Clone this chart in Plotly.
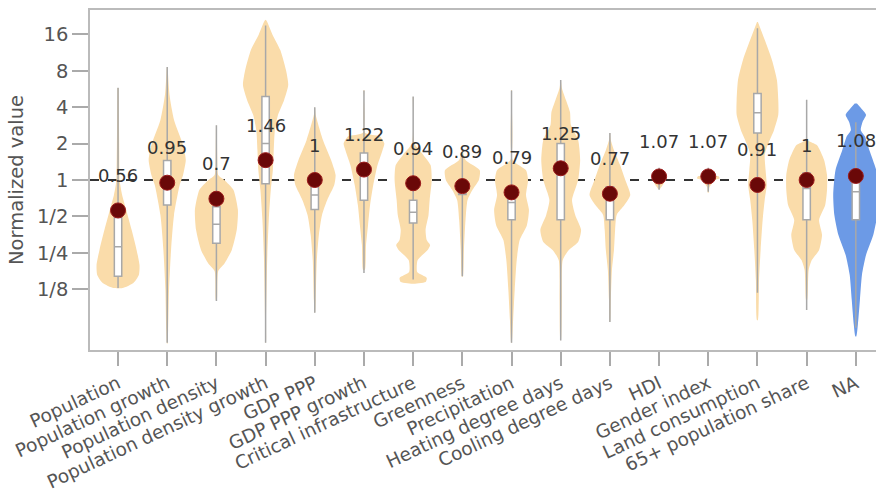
import math
import plotly.graph_objects as go

categories = ["Population", "Population growth", "Population density",
              "Population density growth", "GDP PPP", "GDP PPP growth",
              "Critical infrastructure", "Greenness", "Precipitation",
              "Heating degree days", "Cooling degree days", "HDI",
              "Gender index", "Land consumption", "65+ population share", "NA"]

# point estimates (dark dots + labels)
estimates = [0.56, 0.95, 0.7, 1.46, 1, 1.22, 0.94, 0.89, 0.79, 1.25, 0.77,
             1.07, 1.07, 0.91, 1, 1.08]

# box statistics (normalized values)
q1 = [0.16, 0.62, 0.30, 0.93, 0.57, 0.68, 0.44, 0.76, 0.47, 0.47, 0.47,
      1.02, 1.02, 2.45, 0.47, 0.47]
median = [0.28, 0.95, 0.43, 2.0, 0.75, 1.15, 0.54, 0.85, 0.65, 1.23, 0.70,
          1.07, 1.07, 3.6, 0.85, 0.80]
q3 = [0.49, 1.45, 0.60, 4.9, 0.95, 1.67, 0.68, 1.0, 0.83, 2.0, 0.88,
      1.12, 1.12, 5.2, 1.14, 1.14]
lower = [0.128, 0.045, 0.10, 0.045, 0.08, 0.17, 0.15, 0.16, 0.045, 0.047,
         0.067, 0.83, 0.80, 0.117, 0.084, 0.06]
upper = [5.8, 8.6, 2.83, 19.0, 4.0, 5.5, 4.9, 1.6, 5.5, 6.7, 2.45,
         1.26, 1.26, 18.0, 4.6, 3.0]

# violin outlines: log2 levels (top -> bottom) and relative density widths
v_levels = [
    [2.53, 1.0, 0.0, -0.14, -0.41, -0.82, -1.37, -1.92, -2.34, -2.61, -2.83, -2.97],
    [3.1, 2.34, 1.65, 0.96, 0.55, 0.14, -0.14, -0.96, -1.92, -3.02, -4.12, -4.5],
    [1.5, 0.5, 0.14, 0.0, -0.27, -0.82, -1.37, -1.92, -2.3, -2.5, -3.3],
    [4.4, 4.0, 3.57, 3.02, 2.61, 2.2, 1.79, 1.37, 0.82, 0.27, -0.27, -1.1, -2.2, -3.85, -4.48],
    [2.0, 1.79, 1.1, 0.55, 0.14, -0.14, -0.55, -0.96, -1.51, -2.2, -3.3, -3.65],
    [2.47, 1.3, 1.2, 1.0, 0.82, 0.41, -0.14, -0.69, -1.24, -1.79, -2.47],
    [2.28, 1.0, 0.69, 0.41, 0.0, -0.55, -0.96, -1.37, -1.65, -1.79, -1.92, -2.2, -2.53, -2.69, -2.8, -2.85],
    [0.82, 0.55, 0.27, 0.0, -0.27, -0.55, -1.1, -1.92, -2.66],
    [2.47, 0.55, 0.27, 0.0, -0.41, -0.82, -1.24, -1.65, -2.2, -3.02, -3.85, -4.48],
    [2.75, 2.53, 2.2, 1.87, 1.51, 1.1, 0.55, 0.0, -0.55, -0.96, -1.37, -1.7, -1.92, -2.2, -3.3, -4.4],
    [1.29, 1.1, 0.82, 0.41, 0.0, -0.41, -0.69, -0.96, -1.37, -1.92, -2.47, -3.3, -3.9],
    [0.3, 0.1, 0.0, -0.1, -0.25],
    [0.3, 0.15, 0.1, 0.05, 0.0, -0.2, -0.35],
    [4.34, 3.85, 3.3, 2.75, 2.2, 1.79, 1.37, 0.96, 0.69, 0.27, -0.14, -0.55, -1.1, -1.92, -2.75, -3.85],
    [2.2, 1.1, 0.96, 0.55, 0.14, -0.27, -0.69, -1.1, -1.51, -1.92, -2.2, -2.47, -3.3],
    [2.1, 1.92, 1.79, 1.6, 1.37, 1.2, 0.82, 0.27, -0.41, -0.96, -1.51, -2.06, -2.61, -3.3, -3.98, -4.3],
]
v_density = [
    [0.03, 0.05, 0.07, 0.1, 0.18, 0.36, 0.6, 0.82, 0.95, 0.92, 0.68, 0.2],
    [0.02, 0.1, 0.3, 0.7, 0.82, 0.7, 0.55, 0.3, 0.17, 0.08, 0.04, 0.01],
    [0.02, 0.04, 0.08, 0.35, 0.75, 0.95, 0.9, 0.68, 0.35, 0.08, 0.02],
    [0.0, 0.3, 0.65, 0.9, 1.0, 0.82, 0.55, 0.41, 0.36, 0.32, 0.23, 0.14, 0.07, 0.02, 0.01],
    [0.01, 0.04, 0.36, 0.72, 0.92, 0.86, 0.55, 0.32, 0.18, 0.09, 0.04, 0.01],
    [0.02, 0.05, 0.7, 0.9, 0.82, 0.6, 0.41, 0.27, 0.18, 0.09, 0.04],
    [0.02, 0.06, 0.45, 0.77, 0.82, 0.73, 0.68, 0.55, 0.6, 0.75, 0.64, 0.2, 0.18, 0.6, 0.55, 0.0],
    [0.02, 0.14, 0.77, 0.73, 0.45, 0.23, 0.14, 0.07, 0.02],
    [0.02, 0.05, 0.64, 0.73, 0.64, 0.77, 0.68, 0.36, 0.23, 0.14, 0.07, 0.01],
    [0.01, 0.05, 0.23, 0.41, 0.45, 0.77, 0.86, 0.77, 0.5, 0.64, 0.9, 0.77, 0.36, 0.09, 0.05, 0.01],
    [0.01, 0.04, 0.18, 0.45, 0.68, 0.9, 0.64, 0.3, 0.23, 0.18, 0.09, 0.04, 0.01],
    [0.02, 0.2, 0.25, 0.2, 0.02],
    [0.02, 0.1, 0.45, 0.5, 0.3, 0.05, 0.02],
    [0.02, 0.32, 0.64, 0.86, 0.92, 0.92, 0.73, 0.45, 0.32, 0.36, 0.41, 0.32, 0.23, 0.14, 0.07, 0.02],
    [0.02, 0.05, 0.45, 0.77, 0.9, 0.9, 0.82, 0.55, 0.68, 0.55, 0.23, 0.09, 0.02],
    [0.05, 0.3, 0.45, 0.3, 0.22, 0.4, 0.6, 0.9, 1.0, 0.95, 0.77, 0.45, 0.27, 0.18, 0.09, 0.02],
]
highlight = ["NA"]

ORANGE = "#fadcaa"
BLUE = "#6c9ae6"
MAXW = 0.46
FONT = "DejaVu Sans, sans-serif"
XRANGE = [-0.57, 15.41]
YRANGE = [-1.406, 1.406]

fig = go.Figure()

# violins on the base axes
for i, cat in enumerate(categories):
    lv = v_levels[i]
    dn = v_density[i]
    ys = [2 ** l for l in lv]
    xr = [i + d * MAXW for d in dn]
    xl = [i - d * MAXW for d in dn]
    fig.add_trace(go.Scatter(
        x=xr + xl[::-1], y=ys + ys[::-1], mode="lines", fill="toself",
        fillcolor=BLUE if cat in highlight else ORANGE,
        line=dict(width=0, shape="spline", smoothing=0.6),
        hoverinfo="skip", showlegend=False, xaxis="x", yaxis="y"))

# boxes + dots on overlaying axes so they sit on top of the violins
for i, cat in enumerate(categories):
    fig.add_trace(go.Box(
        x=[i], q1=[q1[i]], median=[median[i]], q3=[q3[i]],
        lowerfence=[lower[i]], upperfence=[upper[i]],
        orientation="v", width=0.15, whiskerwidth=0, boxpoints=False,
        fillcolor="white", line=dict(color="#a8a8a8", width=1.5),
        showlegend=False, xaxis="x2", yaxis="y2"))

fig.add_trace(go.Scatter(
    x=list(range(len(categories))), y=estimates, mode="markers",
    marker=dict(size=15, color="#6a0808", line=dict(color="#9b1a1a", width=1)),
    showlegend=False, xaxis="x2", yaxis="y2"))

for i, v in enumerate(estimates):
    fig.add_annotation(x=i, y=math.log10(v), xref="x", yref="y", text=f"{v:g}",
                       showarrow=False, yshift=35,
                       font=dict(family=FONT, size=18, color="#333333"))

fig.add_shape(type="line", xref="paper", x0=0, x1=1, yref="y", y0=1, y1=1,
              line=dict(color="#333333", width=2, dash="dash"), layer="below")

yt = [16, 8, 4, 2, 1, 0.5, 0.25, 0.125]
ytt = ["16", "8", "4", "2", "1", "1/2", "1/4", "1/8"]

fig.update_layout(
    width=876, height=496,
    margin=dict(l=90, r=0, t=10, b=146),
    plot_bgcolor="white", paper_bgcolor="white",
    boxmode="overlay",
    font=dict(family=FONT, size=18, color="#555555"),
    xaxis=dict(range=XRANGE, tickvals=list(range(len(categories))),
               ticktext=categories, tickangle=-25, ticks="outside", ticklen=14,
               tickcolor="#aaaaaa", tickwidth=1.5, showline=True,
               linecolor="#bbbbbb", linewidth=1.5, mirror=True,
               showgrid=False, zeroline=False, automargin=False,
               tickfont=dict(family=FONT, size=18.5, color="#555555")),
    yaxis=dict(type="log", range=YRANGE, tickvals=yt, ticktext=ytt,
               ticks="outside", ticklen=16, tickcolor="#aaaaaa", tickwidth=1.5,
               showline=True, linecolor="#bbbbbb", linewidth=1.5, mirror=True,
               showgrid=False, zeroline=False, automargin=False,
               tickfont=dict(family=FONT, size=19.5, color="#555555"),
               title=dict(text="Normalized value", standoff=8,
                          font=dict(family=FONT, size=19.5, color="#555555"))),
    xaxis2=dict(overlaying="x", matches="x", range=XRANGE, visible=False),
    yaxis2=dict(overlaying="y", type="log", range=YRANGE, visible=False),
)

fig.write_html("out.html")
